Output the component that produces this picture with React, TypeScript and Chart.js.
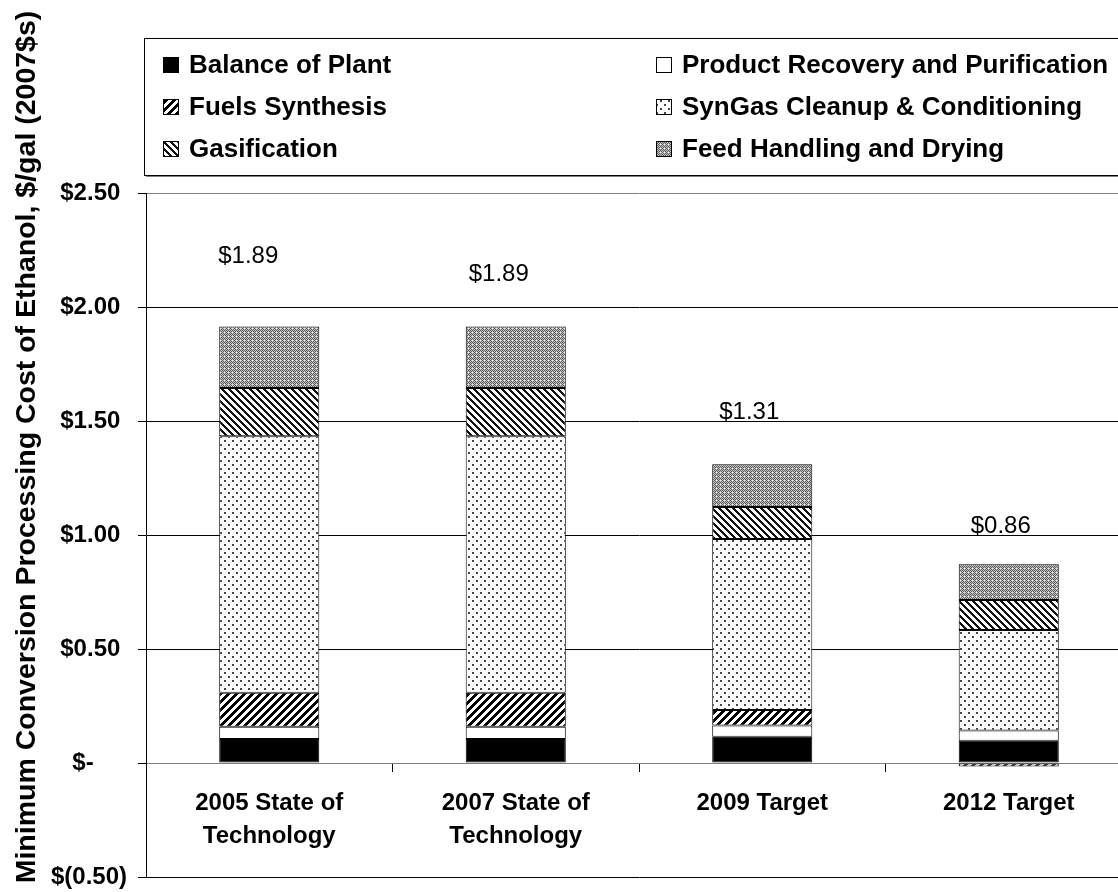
import React, { useEffect, useRef } from "react";
import { Chart, registerables } from "chart.js";

Chart.register(...registerables);

// ---------- data ----------
const categories: (string | string[])[] = [
  ["2005 State of", "Technology"],
  ["2007 State of", "Technology"],
  "2009 Target",
  "2012 Target",
];
const seriesNames = [
  "Balance of Plant",
  "Product Recovery and Purification",
  "Fuels Synthesis",
  "SynGas Cleanup & Conditioning",
  "Gasification",
  "Feed Handling and Drying",
];
const balanceOfPlant = [0.105, 0.105, 0.115, 0.098];
const productRecovery = [0.054, 0.054, 0.05, 0.044];
const fuelsSynthesis = [0.149, 0.149, 0.067, -0.015];
const synGasCleanup = [1.125, 1.125, 0.751, 0.441];
const gasification = [0.212, 0.212, 0.14, 0.132];
const feedHandling = [0.27, 0.27, 0.187, 0.157];
const totalLabels = ["$1.89", "$1.89", "$1.31", "$0.86"];
const totalLabelY = [2.223, 2.144, 1.539, 1.039];
const yTickValues = [-0.5, 0, 0.5, 1, 1.5, 2, 2.5];
const yTickLabels = ["$(0.50)", "$-", "$0.50", "$1.00", "$1.50", "$2.00", "$2.50"];
const yAxisTitle = "Minimum Conversion Processing Cost of Ethanol, $/gal (2007$s)";

// ---------- style ----------
const FONT = "'Liberation Sans', Arial, Helvetica, sans-serif";
const CANVAS_W = 1140;
const CANVAS_H = 892;
const labelShift = [-21, -17, -13, -8];

function pixelPattern(size: number, fn: (x: number, y: number) => string): CanvasPattern | string {
  const c = document.createElement("canvas");
  c.width = size;
  c.height = size;
  const g = c.getContext("2d");
  if (!g) return "#888";
  for (let y = 0; y < size; y++) {
    for (let x = 0; x < size; x++) {
      g.fillStyle = fn(x, y);
      g.fillRect(x, y, 1, 1);
    }
  }
  return g.createPattern(c, "repeat") || "#888";
}

function makeFills() {
  const fuels = pixelPattern(8, (x, y) => ((x + y) % 8 < 4 ? "#000" : "#fff"));
  const gas = pixelPattern(7, (x, y) => ((((x - y) % 7) + 7) % 7 < 3 ? "#111" : "#fff"));
  const syn = pixelPattern(8, (x, y) => {
    const a = x % 8 < 2 && y % 8 < 2;
    const b = (x + 4) % 8 < 2 && (y + 4) % 8 < 2;
    return a || b ? "#444" : "#fff";
  });
  const feed = pixelPattern(4, (x, y) => {
    if (x % 4 === 0 && y % 4 === 0) return "#eee";
    return (x + y) % 2 === 0 ? "#5a5a5a" : "#c4c4c4";
  });
  return ["#000", "#fff", fuels, syn, gas, feed];
}

function tickText(v: number): string {
  const i = yTickValues.findIndex((t) => Math.abs(t - v) < 1e-9);
  if (i < 0) return "";
  const s = yTickLabels[i];
  if (s.endsWith(")")) return s;
  if (s === "$-") return s + "     ";
  return s + " ";
}

export default function App() {
  const ref = useRef<HTMLCanvasElement | null>(null);

  useEffect(() => {
    if (!ref.current) return;
    const fills = makeFills();
    const series = [balanceOfPlant, productRecovery, fuelsSynthesis, synGasCleanup, gasification, feedHandling];

    const legendPlugin = {
      id: "customLegend",
      afterDraw(chart: any) {
        const ctx: CanvasRenderingContext2D = chart.ctx;
        ctx.save();
        const left = 144, top = 38, bottom = 175;
        ctx.fillStyle = "#808080";
        ctx.fillRect(left + 2, bottom, CANVAS_W, 2);
        ctx.fillStyle = "#fff";
        ctx.fillRect(left, top, CANVAS_W, bottom - top);
        ctx.strokeStyle = "#000";
        ctx.lineWidth = 1;
        ctx.strokeRect(left + 0.5, top + 0.5, CANVAS_W, bottom - top);
        ctx.font = `bold 26px ${FONT}`;
        ctx.textBaseline = "alphabetic";
        ctx.textAlign = "left";
        seriesNames.forEach((name, idx) => {
          const r = Math.floor(idx / 2);
          const c = idx % 2;
          const tx = 189 + c * 493;
          const by = 73 + r * 42;
          const mx = tx - 26;
          const my = by - 16;
          ctx.fillStyle = fills[idx] as any;
          ctx.fillRect(mx, my, 15, 15);
          ctx.strokeStyle = "#000";
          ctx.strokeRect(mx + 0.5, my + 0.5, 15, 15);
          ctx.fillStyle = "#000";
          ctx.fillText(name, tx, by);
        });
        ctx.restore();
      },
    };

    const labelPlugin = {
      id: "totalsAndTitle",
      afterDatasetsDraw(chart: any) {
        const ctx: CanvasRenderingContext2D = chart.ctx;
        const xs = chart.scales.x;
        const ys = chart.scales.y;
        ctx.save();
        ctx.font = `24px ${FONT}`;
        ctx.fillStyle = "#000";
        ctx.textAlign = "center";
        ctx.textBaseline = "middle";
        totalLabels.forEach((t, i) => {
          ctx.fillText(t, xs.getPixelForValue(i) + labelShift[i], ys.getPixelForValue(totalLabelY[i]));
        });
        ctx.restore();
      },
      afterDraw(chart: any) {
        const ctx: CanvasRenderingContext2D = chart.ctx;
        ctx.save();
        ctx.translate(35, 447);
        ctx.rotate(-Math.PI / 2);
        ctx.font = `bold 28.5px ${FONT}`;
        ctx.fillStyle = "#000";
        ctx.textAlign = "center";
        ctx.textBaseline = "alphabetic";
        ctx.fillText(yAxisTitle, 0, 0);
        ctx.restore();
      },
    };

    const chart = new Chart(ref.current, {
      type: "bar",
      data: {
        labels: categories as any,
        datasets: seriesNames.map((name, i) => ({
          label: name,
          data: series[i],
          backgroundColor: fills[i] as any,
          borderColor: "#000",
          borderWidth: 1,
          borderSkipped: false,
          barPercentage: 0.406,
          categoryPercentage: 1,
          stack: "s",
        })),
      },
      options: {
        responsive: false,
        animation: false,
        devicePixelRatio: 1,
        layout: { padding: { top: 193, left: 0, right: 8, bottom: 15 } },
        plugins: {
          legend: { display: false },
          tooltip: { enabled: false },
          title: { display: false },
        },
        scales: {
          x: {
            stacked: true,
            position: { y: 0 } as any,
            grid: {
              display: true,
              drawOnChartArea: false,
              drawTicks: true,
              tickLength: 8,
              color: "#000",
              offset: true,
            },
            border: { display: true, color: "#808080", width: 1 },
            ticks: {
              color: "#000",
              font: { family: FONT, size: 24, weight: "bold", lineHeight: 1.36 },
              padding: 16,
              maxRotation: 0,
              autoSkip: false,
            },
          },
          y: {
            stacked: true,
            min: -0.5,
            max: 2.5,
            afterBuildTicks: (s: any) => {
              s.ticks = yTickValues.map((v) => ({ value: v }));
            },
            afterFit: (s: any) => {
              s.width = 146;
              s.paddingBottom = 12;
              s.paddingTop = 12;
            },
            grid: {
              color: (ctx: any) => {
                const v = ctx.tick ? ctx.tick.value : null;
                if (v === 2.5 || v === 0) return "#808080";
                return "#000";
              },
              tickColor: "#000",
              tickLength: 8,
              lineWidth: 1,
            },
            border: { display: true, color: "#000", width: 1 },
            ticks: {
              color: "#000",
              font: { family: FONT, size: 24, weight: "bold" },
              padding: 11,
              callback: (v: any) => tickText(Number(v)),
            },
          },
        },
      },
      plugins: [legendPlugin, labelPlugin],
    });
    return () => chart.destroy();
  }, []);

  return (
    <div
      style={{
        position: "fixed",
        left: 0,
        top: 0,
        width: 1118,
        height: 892,
        overflow: "hidden",
        background: "#fff",
      }}
    >
      <canvas ref={ref} width={CANVAS_W} height={CANVAS_H} style={{ width: CANVAS_W, height: CANVAS_H, display: "block" }} />
    </div>
  );
}
